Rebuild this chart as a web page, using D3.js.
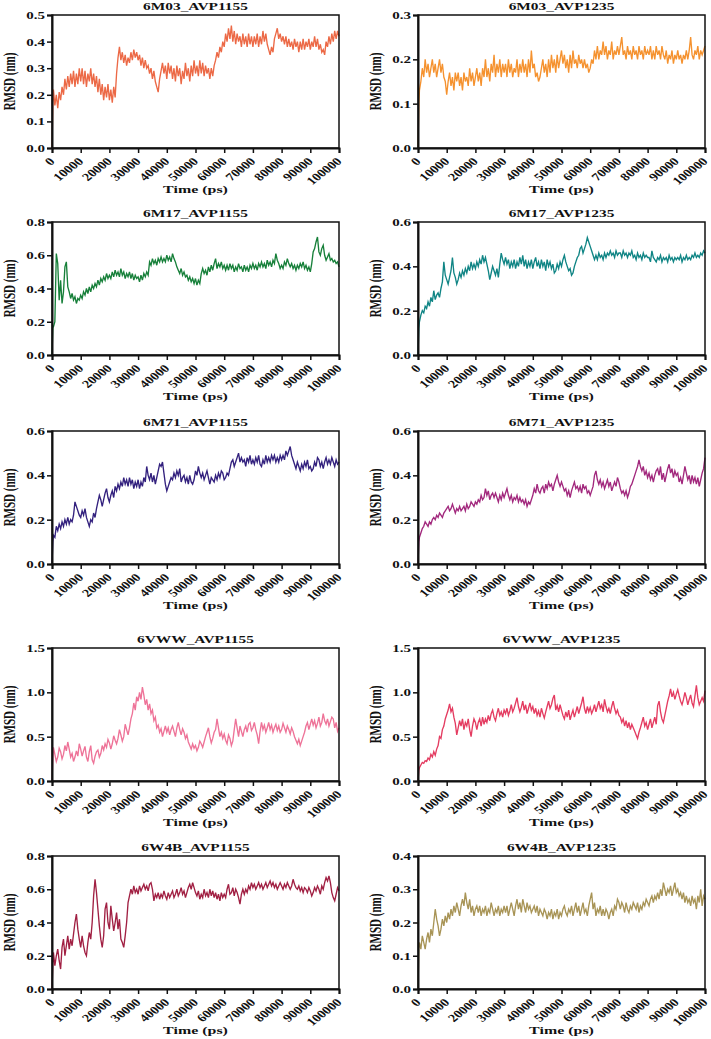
<!DOCTYPE html>
<html><head><meta charset="utf-8">
<script src="https://cdn.jsdelivr.net/npm/d3@7"></script>
<style>body{margin:0;background:#fff}svg{display:block}</style>
</head><body><svg id="c" width="711" height="1039"></svg>
<script>
// ---- DATA ----
// time points: 0, 300, then every 500 ps up to 100000 ps
const timesPs = [0, 300].concat(d3.range(500, 100001, 500));
const xTickValues = [0, 10000, 20000, 30000, 40000, 50000, 60000, 70000, 80000, 90000, 100000];
const panelTitles = ["6M03_AVP1155", "6M03_AVP1235", "6M17_AVP1155", "6M17_AVP1235", "6M71_AVP1155",
                     "6M71_AVP1235", "6VWW_AVP1155", "6VWW_AVP1235", "6W4B_AVP1155", "6W4B_AVP1235"];
const yMaxes = [0.5, 0.3, 0.8, 0.6, 0.6, 0.6, 1.5, 1.5, 0.8, 0.4];
const yTickSteps = [0.1, 0.1, 0.2, 0.2, 0.2, 0.2, 0.5, 0.5, 0.2, 0.1];
const lineColors = ["#EC6946", "#F5922F", "#17803A", "#108585", "#33217E",
                    "#A2287D", "#EE7398", "#E43C61", "#A12043", "#A89456"];

const rmsd_6M03_AVP1155 = [0, 0.17,
0.22, 0.16, 0.2, 0.15, 0.21, 0.18, 0.23, 0.2, 0.26, 0.22, 0.27, 0.23, 0.28, 0.24, 0.29, 0.23, 0.28, 0.24, 0.3, 0.25,
0.3, 0.24, 0.29, 0.23, 0.28, 0.25, 0.3, 0.24, 0.28, 0.23, 0.27, 0.21, 0.26, 0.2, 0.24, 0.18, 0.23, 0.19, 0.24, 0.18,
0.22, 0.17, 0.23, 0.19, 0.28, 0.34, 0.38, 0.33, 0.36, 0.32, 0.35, 0.31, 0.34, 0.32, 0.36, 0.33, 0.37, 0.34, 0.36, 0.33,
0.35, 0.31, 0.34, 0.3, 0.33, 0.3, 0.31, 0.28, 0.3, 0.26, 0.29, 0.25, 0.23, 0.21, 0.26, 0.29, 0.32, 0.28, 0.31, 0.26,
0.32, 0.28, 0.31, 0.26, 0.3, 0.25, 0.31, 0.27, 0.3, 0.24, 0.29, 0.26, 0.32, 0.27, 0.3, 0.25, 0.31, 0.27, 0.33, 0.28,
0.31, 0.27, 0.33, 0.28, 0.32, 0.27, 0.31, 0.28, 0.3, 0.26, 0.3, 0.27, 0.31, 0.33, 0.36, 0.34, 0.38, 0.36, 0.4, 0.38,
0.43, 0.4, 0.45, 0.41, 0.46, 0.4, 0.44, 0.39, 0.43, 0.4, 0.42, 0.38, 0.43, 0.39, 0.42, 0.38, 0.43, 0.39, 0.42, 0.38,
0.42, 0.39, 0.43, 0.38, 0.42, 0.39, 0.44, 0.4, 0.43, 0.39, 0.37, 0.35, 0.38, 0.36, 0.41, 0.43, 0.45, 0.41, 0.43, 0.4,
0.42, 0.39, 0.42, 0.38, 0.41, 0.38, 0.4, 0.37, 0.41, 0.38, 0.4, 0.36, 0.4, 0.37, 0.41, 0.37, 0.4, 0.38, 0.41, 0.37,
0.4, 0.38, 0.42, 0.38, 0.41, 0.37, 0.39, 0.36, 0.37, 0.35, 0.4, 0.38, 0.42, 0.39, 0.43, 0.4, 0.44, 0.41, 0.44, 0.42];

const rmsd_6M03_AVP1235 = [0, 0.1,
0.13, 0.15, 0.18, 0.16, 0.2, 0.17, 0.19, 0.16, 0.18, 0.2, 0.17, 0.19, 0.16, 0.18, 0.2, 0.17, 0.19, 0.16, 0.15, 0.12,
0.15, 0.17, 0.14, 0.16, 0.13, 0.17, 0.15, 0.17, 0.14, 0.16, 0.13, 0.17, 0.15, 0.16, 0.14, 0.18, 0.15, 0.17, 0.14, 0.16,
0.18, 0.15, 0.17, 0.14, 0.18, 0.16, 0.2, 0.16, 0.18, 0.15, 0.19, 0.17, 0.21, 0.16, 0.19, 0.17, 0.2, 0.16, 0.19, 0.17,
0.19, 0.16, 0.2, 0.17, 0.19, 0.16, 0.18, 0.17, 0.2, 0.16, 0.19, 0.17, 0.2, 0.17, 0.19, 0.16, 0.2, 0.17, 0.22, 0.18,
0.19, 0.16, 0.17, 0.15, 0.16, 0.18, 0.2, 0.17, 0.19, 0.16, 0.2, 0.17, 0.21, 0.18, 0.2, 0.17, 0.21, 0.18, 0.2, 0.22,
0.19, 0.21, 0.18, 0.2, 0.17, 0.21, 0.18, 0.22, 0.19, 0.2, 0.18, 0.21, 0.19, 0.2, 0.18, 0.2, 0.18, 0.19, 0.17, 0.18,
0.2, 0.19, 0.22, 0.2, 0.23, 0.2, 0.22, 0.21, 0.24, 0.21, 0.23, 0.2, 0.22, 0.21, 0.24, 0.2, 0.22, 0.21, 0.23, 0.21,
0.23, 0.25, 0.21, 0.22, 0.2, 0.23, 0.21, 0.22, 0.2, 0.23, 0.21, 0.22, 0.2, 0.23, 0.21, 0.22, 0.2, 0.23, 0.21, 0.22,
0.21, 0.23, 0.2, 0.22, 0.2, 0.23, 0.21, 0.22, 0.2, 0.23, 0.21, 0.2, 0.22, 0.19, 0.21, 0.2, 0.22, 0.19, 0.21, 0.2,
0.22, 0.2, 0.21, 0.19, 0.21, 0.2, 0.22, 0.2, 0.22, 0.25, 0.21, 0.2, 0.22, 0.21, 0.23, 0.2, 0.22, 0.21, 0.22, 0.23];

const rmsd_6M17_AVP1155 = [0, 0.17,
0.17, 0.2, 0.61, 0.55, 0.33, 0.45, 0.31, 0.38, 0.53, 0.56, 0.41, 0.38, 0.34, 0.37, 0.33, 0.35, 0.31, 0.34, 0.33, 0.36,
0.34, 0.38, 0.36, 0.4, 0.37, 0.41, 0.38, 0.42, 0.4, 0.43, 0.41, 0.45, 0.42, 0.46, 0.44, 0.47, 0.45, 0.49, 0.46, 0.48,
0.46, 0.5, 0.47, 0.51, 0.48, 0.5, 0.47, 0.52, 0.48, 0.5, 0.46, 0.49, 0.47, 0.5, 0.46, 0.49, 0.45, 0.48, 0.46, 0.47,
0.44, 0.48, 0.45, 0.49, 0.47, 0.5, 0.48, 0.56, 0.54, 0.58, 0.55, 0.57, 0.54, 0.58, 0.56, 0.59, 0.56, 0.58, 0.56, 0.6,
0.57, 0.59, 0.56, 0.61, 0.58, 0.56, 0.53, 0.51, 0.49, 0.52, 0.48, 0.5, 0.47, 0.48, 0.45, 0.47, 0.44, 0.46, 0.43, 0.46,
0.42, 0.45, 0.43, 0.49, 0.52, 0.49, 0.51, 0.48, 0.53, 0.5, 0.54, 0.51, 0.55, 0.58, 0.52, 0.55, 0.53, 0.56, 0.52, 0.54,
0.51, 0.54, 0.51, 0.55, 0.52, 0.54, 0.5, 0.53, 0.51, 0.55, 0.52, 0.53, 0.5, 0.54, 0.51, 0.53, 0.5, 0.54, 0.52, 0.55,
0.52, 0.54, 0.51, 0.55, 0.53, 0.56, 0.53, 0.55, 0.52, 0.57, 0.54, 0.56, 0.53, 0.57, 0.55, 0.61, 0.57, 0.55, 0.52, 0.54,
0.52, 0.56, 0.54, 0.58, 0.55, 0.53, 0.55, 0.52, 0.54, 0.51, 0.54, 0.52, 0.55, 0.53, 0.56, 0.52, 0.54, 0.51, 0.53, 0.5,
0.55, 0.62, 0.64, 0.68, 0.71, 0.62, 0.6, 0.64, 0.66, 0.6, 0.57, 0.59, 0.61, 0.57, 0.58, 0.56, 0.57, 0.55, 0.56, 0.53];

const rmsd_6M17_AVP1235 = [0, 0.12,
0.15, 0.18, 0.2, 0.19, 0.22, 0.21, 0.24, 0.22, 0.26, 0.24, 0.29, 0.25, 0.27, 0.28, 0.26, 0.3, 0.33, 0.42, 0.36, 0.34,
0.32, 0.35, 0.38, 0.44, 0.37, 0.35, 0.32, 0.34, 0.37, 0.35, 0.38, 0.36, 0.39, 0.37, 0.4, 0.38, 0.42, 0.39, 0.41, 0.39,
0.42, 0.4, 0.43, 0.41, 0.45, 0.42, 0.44, 0.41, 0.38, 0.34, 0.37, 0.4, 0.38, 0.36, 0.39, 0.35, 0.41, 0.46, 0.43, 0.41,
0.44, 0.41, 0.43, 0.39, 0.42, 0.4, 0.43, 0.39, 0.42, 0.4, 0.44, 0.41, 0.45, 0.4, 0.43, 0.39, 0.42, 0.4, 0.43, 0.39,
0.42, 0.44, 0.4, 0.42, 0.39, 0.43, 0.4, 0.42, 0.38, 0.43, 0.4, 0.42, 0.39, 0.41, 0.37, 0.38, 0.41, 0.39, 0.42, 0.4,
0.43, 0.45, 0.42, 0.4, 0.38, 0.39, 0.36, 0.37, 0.4, 0.42, 0.44, 0.45, 0.48, 0.49, 0.46, 0.48, 0.5, 0.53, 0.51, 0.49,
0.47, 0.45, 0.43, 0.45, 0.43, 0.46, 0.44, 0.45, 0.43, 0.46, 0.44, 0.46, 0.45, 0.47, 0.45, 0.46, 0.44, 0.47, 0.45, 0.46,
0.46, 0.44, 0.47, 0.45, 0.46, 0.44, 0.46, 0.45, 0.47, 0.44, 0.45, 0.43, 0.46, 0.44, 0.45, 0.43, 0.46, 0.44, 0.45, 0.44,
0.44, 0.42, 0.47, 0.44, 0.43, 0.42, 0.44, 0.43, 0.45, 0.42, 0.44, 0.43, 0.44, 0.42, 0.45, 0.43, 0.44, 0.42, 0.44, 0.43,
0.44, 0.43, 0.45, 0.42, 0.44, 0.43, 0.45, 0.43, 0.44, 0.43, 0.45, 0.44, 0.46, 0.44, 0.45, 0.44, 0.46, 0.45, 0.47, 0.46];

const rmsd_6M71_AVP1155 = [0, 0.1,
0.13, 0.12, 0.17, 0.15, 0.18, 0.16, 0.19, 0.17, 0.2, 0.18, 0.21, 0.18, 0.2, 0.19, 0.22, 0.28, 0.26, 0.24, 0.22, 0.21,
0.24, 0.22, 0.25, 0.21, 0.19, 0.17, 0.2, 0.19, 0.23, 0.21, 0.25, 0.28, 0.31, 0.29, 0.26, 0.29, 0.32, 0.34, 0.3, 0.28,
0.31, 0.33, 0.3, 0.35, 0.33, 0.36, 0.34, 0.37, 0.35, 0.39, 0.36, 0.38, 0.35, 0.39, 0.36, 0.38, 0.34, 0.37, 0.35, 0.38,
0.34, 0.37, 0.35, 0.39, 0.37, 0.44, 0.4, 0.38, 0.41, 0.37, 0.4, 0.36, 0.39, 0.42, 0.45, 0.44, 0.46, 0.41, 0.36, 0.33,
0.35, 0.37, 0.39, 0.38, 0.41, 0.39, 0.42, 0.4, 0.43, 0.37, 0.39, 0.4, 0.37, 0.39, 0.36, 0.4, 0.37, 0.36, 0.38, 0.42,
0.4, 0.44, 0.41, 0.39, 0.41, 0.38, 0.4, 0.42, 0.39, 0.36, 0.39, 0.38, 0.37, 0.4, 0.38, 0.41, 0.39, 0.42, 0.41, 0.38,
0.39, 0.41, 0.4, 0.43, 0.46, 0.47, 0.44, 0.46, 0.48, 0.5, 0.46, 0.48, 0.46, 0.47, 0.44, 0.48, 0.46, 0.49, 0.45, 0.47,
0.45, 0.48, 0.46, 0.49, 0.45, 0.44, 0.47, 0.45, 0.49, 0.46, 0.48, 0.46, 0.49, 0.47, 0.49, 0.46, 0.48, 0.46, 0.49, 0.47,
0.49, 0.47, 0.51, 0.49, 0.51, 0.53, 0.49, 0.47, 0.45, 0.43, 0.46, 0.44, 0.42, 0.45, 0.43, 0.46, 0.44, 0.47, 0.43, 0.44,
0.42, 0.43, 0.46, 0.44, 0.48, 0.47, 0.44, 0.46, 0.43, 0.46, 0.48, 0.45, 0.47, 0.45, 0.48, 0.46, 0.44, 0.47, 0.45, 0.46];

const rmsd_6M71_AVP1235 = [0, 0.1,
0.12, 0.14, 0.16, 0.17, 0.19, 0.18, 0.17, 0.19, 0.18, 0.2, 0.21, 0.2, 0.22, 0.21, 0.23, 0.22, 0.21, 0.23, 0.24, 0.25,
0.26, 0.24, 0.25, 0.27, 0.25, 0.23, 0.25, 0.24, 0.26, 0.24, 0.25, 0.26, 0.24, 0.27, 0.25, 0.26, 0.28, 0.27, 0.26, 0.28,
0.27, 0.29, 0.28, 0.31, 0.29, 0.3, 0.34, 0.31, 0.33, 0.29, 0.31, 0.32, 0.3, 0.32, 0.3, 0.28, 0.31, 0.29, 0.32, 0.3,
0.32, 0.34, 0.31, 0.29, 0.31, 0.28, 0.3, 0.29, 0.31, 0.28, 0.3, 0.28, 0.29, 0.27, 0.29, 0.26, 0.28, 0.27, 0.29, 0.31,
0.34, 0.32, 0.36, 0.33, 0.32, 0.34, 0.35, 0.32, 0.36, 0.34, 0.37, 0.35, 0.36, 0.33, 0.36, 0.38, 0.4, 0.37, 0.35, 0.37,
0.35, 0.33, 0.34, 0.31, 0.33, 0.3, 0.33, 0.35, 0.37, 0.34, 0.35, 0.33, 0.35, 0.32, 0.36, 0.34, 0.35, 0.32, 0.33, 0.31,
0.33, 0.35, 0.4, 0.42, 0.38, 0.36, 0.38, 0.35, 0.37, 0.34, 0.36, 0.38, 0.35, 0.37, 0.33, 0.35, 0.37, 0.35, 0.39, 0.37,
0.34, 0.32, 0.33, 0.31, 0.33, 0.3, 0.32, 0.35, 0.36, 0.38, 0.4, 0.42, 0.44, 0.47, 0.44, 0.42, 0.44, 0.4, 0.42, 0.39,
0.41, 0.38, 0.4, 0.37, 0.4, 0.42, 0.43, 0.4, 0.44, 0.38, 0.41, 0.37, 0.4, 0.43, 0.45, 0.41, 0.43, 0.39, 0.42, 0.4,
0.41, 0.37, 0.39, 0.36, 0.4, 0.44, 0.41, 0.38, 0.4, 0.36, 0.4, 0.37, 0.39, 0.36, 0.39, 0.35, 0.38, 0.41, 0.43, 0.48];

const rmsd_6VWW_AVP1155 = [0, 0.25,
0.38, 0.3, 0.22, 0.27, 0.37, 0.33, 0.25, 0.3, 0.4, 0.34, 0.44, 0.36, 0.27, 0.31, 0.22, 0.27, 0.34, 0.28, 0.42, 0.36,
0.28, 0.34, 0.39, 0.27, 0.22, 0.33, 0.4, 0.24, 0.2, 0.28, 0.33, 0.35, 0.27, 0.31, 0.4, 0.35, 0.42, 0.38, 0.47, 0.43,
0.36, 0.42, 0.51, 0.46, 0.42, 0.48, 0.58, 0.52, 0.45, 0.5, 0.64, 0.58, 0.52, 0.6, 0.7, 0.76, 0.88, 0.8, 0.95, 0.9,
1.0, 0.92, 1.06, 0.97, 0.86, 0.92, 0.8, 0.87, 0.76, 0.8, 0.68, 0.72, 0.6, 0.63, 0.55, 0.59, 0.5, 0.56, 0.62, 0.55,
0.6, 0.52, 0.58, 0.62, 0.56, 0.5, 0.6, 0.66, 0.58, 0.52, 0.59, 0.55, 0.48, 0.52, 0.44, 0.4, 0.36, 0.42, 0.37, 0.4,
0.34, 0.38, 0.45, 0.42, 0.38, 0.44, 0.5, 0.55, 0.6, 0.5, 0.43, 0.48, 0.55, 0.58, 0.7, 0.6, 0.5, 0.55, 0.48, 0.53,
0.46, 0.42, 0.52, 0.48, 0.4, 0.45, 0.58, 0.7, 0.6, 0.5, 0.62, 0.56, 0.5, 0.58, 0.62, 0.55, 0.64, 0.66, 0.57, 0.6,
0.66, 0.58, 0.52, 0.42, 0.56, 0.66, 0.58, 0.63, 0.55, 0.6, 0.66, 0.58, 0.63, 0.55, 0.6, 0.64, 0.57, 0.62, 0.55, 0.58,
0.65, 0.6, 0.55, 0.62, 0.58, 0.53, 0.6, 0.56, 0.5, 0.46, 0.42, 0.47, 0.4, 0.45, 0.5, 0.55, 0.62, 0.66, 0.58, 0.64,
0.7, 0.63, 0.68, 0.6, 0.65, 0.72, 0.62, 0.66, 0.76, 0.68, 0.64, 0.7, 0.62, 0.67, 0.72, 0.7, 0.6, 0.66, 0.56, 0.6];

const rmsd_6VWW_AVP1235 = [0, 0.12,
0.15, 0.18, 0.21, 0.2, 0.23, 0.22, 0.26, 0.24, 0.3, 0.27, 0.33, 0.29, 0.36, 0.4, 0.5, 0.48, 0.58, 0.62, 0.7, 0.75,
0.8, 0.87, 0.78, 0.82, 0.72, 0.65, 0.52, 0.6, 0.68, 0.62, 0.7, 0.58, 0.66, 0.62, 0.7, 0.58, 0.5, 0.62, 0.7, 0.66,
0.58, 0.66, 0.7, 0.62, 0.72, 0.64, 0.7, 0.66, 0.74, 0.68, 0.76, 0.8, 0.72, 0.68, 0.76, 0.82, 0.74, 0.78, 0.72, 0.8,
0.76, 0.82, 0.74, 0.79, 0.86, 0.78, 0.82, 0.88, 0.94, 0.84, 0.78, 0.83, 0.9, 0.8, 0.86, 0.76, 0.82, 0.88, 0.8, 0.84,
0.76, 0.82, 0.74, 0.79, 0.72, 0.82, 0.76, 0.71, 0.78, 0.84, 0.9, 0.82, 0.86, 0.93, 0.97, 0.8, 0.85, 0.78, 0.86, 0.8,
0.74, 0.7, 0.78, 0.72, 0.8, 0.69, 0.75, 0.8, 0.72, 0.78, 0.84, 0.76, 0.82, 0.88, 0.95, 0.82, 0.76, 0.84, 0.78, 0.83,
0.76, 0.8, 0.86, 0.78, 0.84, 0.9, 0.82, 0.86, 0.78, 0.92, 0.84, 0.78, 0.82, 0.76, 0.84, 0.9, 0.82, 0.76, 0.8, 0.74,
0.72, 0.66, 0.7, 0.62, 0.68, 0.6, 0.66, 0.58, 0.64, 0.6, 0.56, 0.52, 0.48, 0.55, 0.6, 0.66, 0.72, 0.62, 0.66, 0.58,
0.64, 0.7, 0.6, 0.66, 0.72, 0.64, 0.85, 0.9, 0.78, 0.7, 0.66, 0.74, 0.82, 0.9, 0.96, 1.04, 0.95, 1.0, 0.92, 0.98,
1.03, 0.96, 0.9, 0.86, 0.92, 1.0, 0.94, 0.86, 0.92, 0.97, 0.88, 0.84, 0.96, 1.08, 0.94, 0.86, 0.9, 0.94, 0.9, 1.02];

const rmsd_6W4B_AVP1155 = [0, 0.15,
0.22, 0.14, 0.2, 0.24, 0.17, 0.12, 0.25, 0.3, 0.2, 0.26, 0.32, 0.24, 0.3, 0.26, 0.33, 0.4, 0.45, 0.36, 0.3, 0.25,
0.32, 0.26, 0.22, 0.2, 0.28, 0.34, 0.3, 0.4, 0.56, 0.66, 0.58, 0.48, 0.38, 0.3, 0.25, 0.32, 0.48, 0.52, 0.4, 0.36,
0.5, 0.42, 0.35, 0.4, 0.46, 0.36, 0.42, 0.3, 0.28, 0.25, 0.32, 0.4, 0.52, 0.56, 0.6, 0.57, 0.62, 0.58, 0.6, 0.57,
0.62, 0.59, 0.61, 0.63, 0.6, 0.62, 0.59, 0.63, 0.64, 0.6, 0.53, 0.57, 0.55, 0.58, 0.54, 0.57, 0.55, 0.59, 0.56, 0.54,
0.58, 0.55, 0.57, 0.59, 0.55, 0.57, 0.6, 0.56, 0.58, 0.61, 0.57, 0.59, 0.55, 0.58, 0.61, 0.63, 0.6, 0.64, 0.61, 0.58,
0.56, 0.59, 0.54, 0.57, 0.55, 0.6, 0.56, 0.58, 0.55, 0.6, 0.56, 0.59, 0.55, 0.58, 0.54, 0.57, 0.53, 0.58, 0.55, 0.57,
0.55, 0.6, 0.63, 0.57, 0.58, 0.61, 0.56, 0.6, 0.58, 0.55, 0.51, 0.57, 0.6, 0.57, 0.6, 0.58, 0.62, 0.6, 0.64, 0.61,
0.63, 0.6, 0.62, 0.64, 0.61, 0.63, 0.6, 0.62, 0.64, 0.61, 0.63, 0.65, 0.62, 0.64, 0.61, 0.63, 0.6, 0.62, 0.64, 0.62,
0.6, 0.63, 0.61, 0.64, 0.62, 0.6, 0.62, 0.66, 0.63, 0.61, 0.6, 0.62, 0.59, 0.61, 0.58, 0.61, 0.6, 0.58, 0.61, 0.59,
0.56, 0.58, 0.61, 0.59, 0.62, 0.6, 0.57, 0.62, 0.6, 0.64, 0.67, 0.65, 0.68, 0.64, 0.58, 0.55, 0.53, 0.57, 0.61, 0.59];

const rmsd_6W4B_AVP1235 = [0, 0.12,
0.14, 0.12, 0.16, 0.14, 0.12, 0.15, 0.17, 0.14, 0.18, 0.16, 0.2, 0.24, 0.21, 0.19, 0.16, 0.18, 0.21, 0.19, 0.22, 0.2,
0.23, 0.21, 0.24, 0.22, 0.25, 0.23, 0.26, 0.24, 0.22, 0.25, 0.27, 0.25, 0.29, 0.26, 0.24, 0.27, 0.23, 0.25, 0.22, 0.24,
0.25, 0.23, 0.25, 0.22, 0.24, 0.23, 0.25, 0.22, 0.24, 0.23, 0.26, 0.24, 0.22, 0.24, 0.23, 0.25, 0.22, 0.24, 0.23, 0.25,
0.23, 0.25, 0.22, 0.24, 0.26, 0.24, 0.22, 0.25, 0.27, 0.24, 0.26, 0.23, 0.27, 0.25, 0.23, 0.26, 0.24, 0.25, 0.23, 0.24,
0.25, 0.23, 0.25, 0.22, 0.24, 0.23, 0.22, 0.24, 0.23, 0.21, 0.23, 0.22, 0.24, 0.21, 0.23, 0.22, 0.24, 0.21, 0.23, 0.22,
0.24, 0.25, 0.23, 0.22, 0.24, 0.23, 0.25, 0.22, 0.24, 0.26, 0.23, 0.25, 0.22, 0.24, 0.26, 0.23, 0.24, 0.22, 0.25, 0.27,
0.29, 0.24, 0.26, 0.22, 0.24, 0.23, 0.25, 0.22, 0.24, 0.22, 0.24, 0.23, 0.21, 0.23, 0.24, 0.22, 0.25, 0.24, 0.27, 0.26,
0.24, 0.26, 0.25, 0.23, 0.26, 0.24, 0.23, 0.25, 0.24, 0.26, 0.25, 0.24, 0.26, 0.23, 0.25, 0.24, 0.26, 0.25, 0.27, 0.26,
0.25, 0.27, 0.28, 0.26, 0.28, 0.27, 0.29, 0.27, 0.3, 0.28, 0.32, 0.3, 0.28, 0.3, 0.29, 0.31, 0.28, 0.3, 0.32, 0.29,
0.3, 0.28, 0.29, 0.27, 0.29, 0.26, 0.28, 0.26, 0.27, 0.25, 0.28, 0.26, 0.27, 0.24, 0.28, 0.26, 0.3, 0.25, 0.28, 0.27];

const seriesList = [rmsd_6M03_AVP1155, rmsd_6M03_AVP1235, rmsd_6M17_AVP1155, rmsd_6M17_AVP1235,
  rmsd_6M71_AVP1155, rmsd_6M71_AVP1235, rmsd_6VWW_AVP1155, rmsd_6VWW_AVP1235,
  rmsd_6W4B_AVP1155, rmsd_6W4B_AVP1235];

// ---- LAYOUT ----
const rowTops = [15, 222, 431, 648, 856];
const colLefts = [52, 418];
const plotW = 287, plotH = 133;
const FONT = "'Liberation Serif','Times New Roman',serif";

const svg = d3.select("#c");

seriesList.forEach((vals, i) => {
  const row = Math.floor(i / 2), col = i % 2;
  const left = colLefts[col], top = rowTops[row];
  const right = left + plotW, bottom = top + plotH;
  const cx = (left + right) / 2;

  const x = d3.scaleLinear().domain([0, 100000]).range([left, right]);
  const y = d3.scaleLinear().domain([0, yMaxes[i]]).range([bottom, top]);
  const g = svg.append("g");

  const n = Math.min(vals.length, timesPs.length);
  const line = d3.line().x((d, k) => x(timesPs[k])).y(d => y(d));
  g.append("path").datum(vals.slice(0, n))
    .attr("d", line)
    .attr("fill", "none")
    .attr("stroke", lineColors[i])
    .attr("stroke-width", 1.35)
    .attr("stroke-linejoin", "miter");

  // frame
  g.append("rect").attr("x", left).attr("y", top).attr("width", plotW).attr("height", plotH)
    .attr("fill", "none").attr("stroke", "#111").attr("stroke-width", 1.5);

  // y axis
  const yt = d3.range(0, yMaxes[i] + 1e-9, yTickSteps[i]);
  const ya = g.append("g").attr("transform", `translate(${left},0)`)
    .call(d3.axisLeft(y).tickValues(yt).tickSize(5).tickFormat(d3.format(".1f")));
  ya.select(".domain").attr("stroke", "#111").attr("stroke-width", 2);
  ya.selectAll(".tick line").attr("stroke", "#111").attr("stroke-width", 1.5);
  ya.selectAll(".tick text")
    .attr("x", null).attr("dy", "0.35em")
    .attr("transform", "translate(-7,0) scale(1.5,1)")
    .attr("text-anchor", "end")
    .attr("font-family", FONT).attr("font-weight", "bold").attr("font-size", 10).attr("fill", "#111");

  // x axis
  const xa = g.append("g").attr("transform", `translate(0,${bottom})`)
    .call(d3.axisBottom(x).tickValues(xTickValues).tickSize(5).tickFormat(d3.format("d")));
  xa.select(".domain").attr("stroke", "#111").attr("stroke-width", 2);
  xa.selectAll(".tick line").attr("stroke", "#111").attr("stroke-width", 1.5);
  xa.selectAll(".tick text")
    .attr("y", null).attr("dy", null)
    .attr("transform", "translate(3,14) scale(1.3,1) rotate(-45)")
    .attr("text-anchor", "end")
    .attr("font-family", FONT).attr("font-weight", "bold").attr("font-size", 11).attr("fill", "#111");

  // title
  g.append("text").text(panelTitles[i])
    .attr("transform", `translate(${cx},${top - 5}) scale(1.4,1)`)
    .attr("text-anchor", "middle")
    .attr("font-family", FONT).attr("font-weight", "bold").attr("font-size", 11).attr("fill", "#111");

  // y label
  g.append("text").text("RMSD (nm)")
    .attr("transform", `translate(${left - 43},${(top + bottom) / 2}) scale(1.5,1) rotate(-90)`)
    .attr("text-anchor", "middle").attr("dy", "0.35em")
    .attr("font-family", FONT).attr("font-weight", "bold").attr("font-size", 11).attr("fill", "#111");

  // x label
  g.append("text").text("Time (ps)")
    .attr("transform", `translate(${cx},${bottom + 45}) scale(1.45,1)`)
    .attr("text-anchor", "middle")
    .attr("font-family", FONT).attr("font-weight", "bold").attr("font-size", 11).attr("fill", "#111");
});
</script>
</body></html>
